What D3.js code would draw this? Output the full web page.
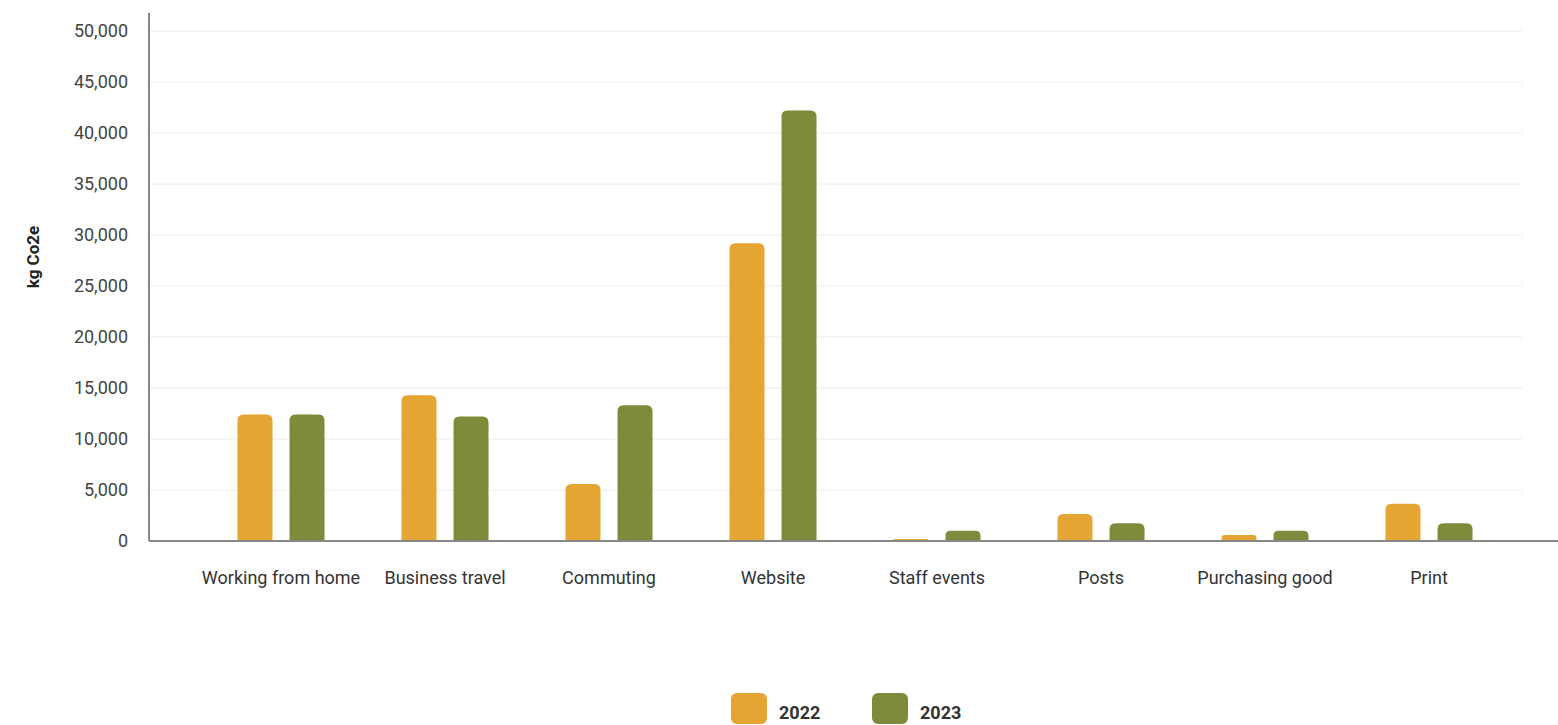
<!DOCTYPE html>
<html><head><meta charset="utf-8">
<script src="https://cdn.jsdelivr.net/npm/d3@7"></script>
<style>body{margin:0;background:#fff;}svg{display:block;font-family:Roboto,"Noto Sans",sans-serif;}</style>
</head><body>
<svg id="c" width="1558" height="725"></svg>
<script>
const categories = ["Working from home","Business travel","Commuting","Website","Staff events","Posts","Purchasing good","Print"];
const seriesNames = ["2022","2023"];
const values2022 = [12400, 14300, 5600, 29200, 200, 2650, 600, 3650];
const values2023 = [12400, 12200, 13300, 42200, 1000, 1750, 1000, 1750];
const yTicks = [0,5000,10000,15000,20000,25000,30000,35000,40000,45000,50000];
const colors = ["#E5A532","#7E8B3A"];

(function(){
const svg = d3.select("#c");
const mLeft = 149, mTop = 31, mBottom = 541, gridRight = 1522;
const y = d3.scaleLinear().domain([0,50000]).range([mBottom, mTop]);
const x0 = d3.scaleBand().domain(categories).range([199, 1511]).paddingInner(0).paddingOuter(0);
const x1 = d3.scaleBand().domain(seriesNames).range([0, x0.bandwidth()]).paddingInner(0.327).paddingOuter(0.74);

// gridlines
svg.append("g").selectAll("line").data(yTicks.filter(d=>d>0)).join("line")
  .attr("x1", mLeft).attr("x2", gridRight)
  .attr("y1", d=>y(d)).attr("y2", d=>y(d))
  .attr("stroke", "#ececec").attr("stroke-width", 1);

// y axis labels
const yAxis = d3.axisLeft(y).tickValues(yTicks).tickFormat(d3.format(",")).tickSize(0).tickPadding(21);
const ga = svg.append("g").attr("transform", `translate(${mLeft},0)`).call(yAxis);
ga.select(".domain").remove();
ga.selectAll("text").attr("font-size", 18).attr("fill", "#444").attr("font-family","Roboto");

// y axis line
svg.append("line").attr("x1", mLeft).attr("x2", mLeft).attr("y1", 13).attr("y2", mBottom)
  .attr("stroke", "#888").attr("stroke-width", 2);

// bars
const data = categories.map((c,i)=>({cat:c, vals:[values2022[i], values2023[i]]}));
const r = 6;
function barPath(x, w, y0, y1){
  const h = y1 - y0; const rr = Math.min(r, h/2, w/2);
  return `M${x},${y1}V${y0+rr}Q${x},${y0} ${x+rr},${y0}H${x+w-rr}Q${x+w},${y0} ${x+w},${y0+rr}V${y1}Z`;
}
const groups = svg.append("g").selectAll("g").data(data).join("g")
  .attr("transform", d=>`translate(${x0(d.cat)},0)`);
groups.selectAll("path").data(d=>d.vals.map((v,j)=>({s:seriesNames[j], v, j}))).join("path")
  .attr("d", d=>barPath(x1(d.s), x1.bandwidth(), y(d.v), mBottom))
  .attr("fill", d=>colors[d.j]);

// baseline
svg.append("line").attr("x1", mLeft).attr("x2", 1558).attr("y1", mBottom).attr("y2", mBottom)
  .attr("stroke", "#888").attr("stroke-width", 2);

// x labels
const xAxis = d3.axisBottom(x0).tickSize(0).tickPadding(30);
const gx = svg.append("g").attr("transform", `translate(0,${mBottom})`).call(xAxis);
gx.select(".domain").remove();
gx.selectAll("text").attr("font-size", 18).attr("fill", "#333").attr("font-family","Roboto");

// y title
svg.append("text").attr("transform", "translate(39,257) rotate(-90)")
  .attr("text-anchor","middle").attr("font-size", 17).attr("font-weight","bold").attr("fill","#222")
  .text("kg Co2e");

// legend
const lg = svg.append("g").selectAll("g").data(seriesNames).join("g")
  .attr("transform", (d,i)=>`translate(${731 + i*141},693)`);
lg.append("rect").attr("width", 36).attr("height", 31).attr("rx", 6).attr("fill", (d,i)=>colors[i]);
lg.append("text").attr("x", 48).attr("y", 26).attr("font-size", 18).attr("font-weight","bold")
  .attr("fill","#333").text(d=>d);
})();
</script>
</body></html>
